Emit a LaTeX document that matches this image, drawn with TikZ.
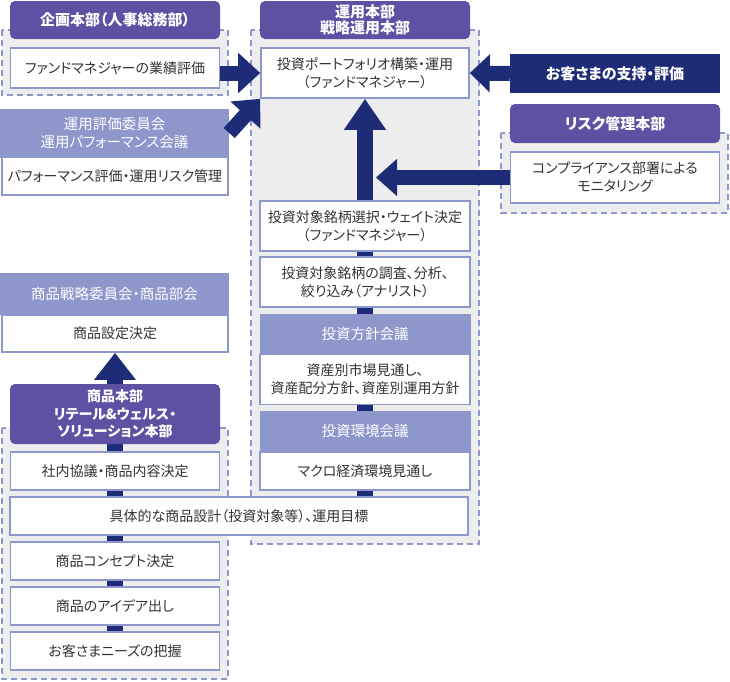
\documentclass[tikz,border=0pt]{standalone}
\usepackage{fontspec}
\newfontfamily\jp[RawFeature=+palt]{Noto Sans CJK JP}
\usetikzlibrary{arrows.meta}
\definecolor{hqpurple}{HTML}{5E50A3}
\definecolor{navy}{HTML}{1E2C78}
\definecolor{lite}{HTML}{8D97CC}
\definecolor{shade}{HTML}{EDEDED}
\definecolor{ink}{HTML}{333333}
\pgfdeclarelayer{back}
\pgfdeclarelayer{mid}
\pgfsetlayers{back,mid,main}
\tikzset{
        box/.style={draw=lite, line width=1.6pt, fill=white, text=ink, inner sep=0pt, align=center, font=\jp\fontsize{14}{18}\selectfont},
        hq/.style={fill=hqpurple, rounded corners=5pt, text=white, inner sep=0pt, align=center, font=\jp\bfseries\fontsize{15}{16.5}\selectfont},
        voice/.style={fill=navy, text=white, inner sep=0pt, align=center, font=\jp\bfseries\fontsize{15}{16.5}\selectfont},
        council/.style={fill=lite, text=white, inner sep=0pt, align=center, font=\jp\fontsize{14.5}{18}\selectfont},
        region/.style={fill=shade, draw=lite, line width=1.6pt, dash pattern=on 6pt off 4pt},
        link/.style={draw=navy, line width=16pt},
        fat/.style={draw=navy, line width=15pt, -{Triangle[length=22pt, width=39pt]}}
          }

\begin{document}
\begin{tikzpicture}[x=1pt, y=-1pt]
        \useasboundingbox (0,0) rectangle (730,681);
        % dashed department areas
        \begin{pgfonlayer}{back}
          \path[region] (2,30) rectangle (228,95);
          \path[region] (251,30) rectangle (479,544);
          \path[region] (501,133) rectangle (728,213);
          \path[region] (2,428) rectangle (228,679);
        \end{pgfonlayer}

        % planning / evaluation
        \node[hq, minimum width=210, minimum height=38] (plan) at (115,20) {企画本部（人事総務部）};
        \node[box, minimum width=209, minimum height=40] (rating) at (115,68) {ファンドマネジャーの業績評価};
        \node[council, minimum width=229, minimum height=49] (perfh) at (114.5,133) {運用評価委員会\\運用パフォーマンス会議};
        \node[box, minimum width=226, minimum height=38] (perf) at (115,176) {パフォーマンス評価・運用リスク管理};

        % investment division
        \node[hq, minimum width=210, minimum height=38] (inv) at (365,20) {運用本部\\戦略運用本部};
        \node[box, minimum width=208, minimum height=50] (port) at (365,73) {投資ポートフォリオ構築・運用\\（ファンドマネジャー）};
        \node[box, minimum width=210, minimum height=50] (pick) at (365,226) {投資対象銘柄選択・ウェイト決定\\（ファンドマネジャー）};
        \node[box, minimum width=210, minimum height=50] (study) at (365,282) {投資対象銘柄の調査、分析、\\絞り込み（アナリスト）};
        \node[council, minimum width=211, minimum height=41] (polh) at (365,334.5) {投資方針会議};
        \node[box, minimum width=210, minimum height=50] (pol) at (365,379.5) {資産別市場見通し、\\資産配分方針、資産別運用方針};
        \node[council, minimum width=211, minimum height=41] (envh) at (365,431.5) {投資環境会議};
        \node[box, minimum width=210, minimum height=38] (env) at (365,471) {マクロ経済環境見通し};

        % clients / risk
        \node[voice, minimum width=210, minimum height=39] (cust) at (615,73.5) {お客さまの支持・評価};
        \node[hq, minimum width=210, minimum height=39] (risk) at (615,123.5) {リスク管理本部};
        \node[box, minimum width=209, minimum height=51] (watch) at (615,177.5) {コンプライアンス部署による\\モニタリング};

        % product division
        \node[council, minimum width=229, minimum height=42] (strath) at (114.5,294) {商品戦略委員会・商品部会};
        \node[box, minimum width=226, minimum height=37] (strat) at (115,333.5) {商品設定決定};
        \node[hq, minimum width=210, minimum height=60, font=\jp\bfseries\fontsize{14}{17.5}\selectfont] (prod) at (115,414) {商品本部\\リテール\&ウェルス・\\ソリューション本部};
        \node[box, minimum width=209, minimum height=38] (agree) at (115,471) {社内協議・商品内容決定};
        \node[box, minimum width=458, minimum height=38] (design) at (239,516) {具体的な商品設計（投資対象等）、運用目標};
        \node[box, minimum width=209, minimum height=38] (concept) at (115,561) {商品コンセプト決定};
        \node[box, minimum width=209, minimum height=38] (idea) at (115,606) {商品のアイデア出し};
        \node[box, minimum width=209, minimum height=38] (needs) at (115,651) {お客さまニーズの把握};

        \begin{pgfonlayer}{mid}
          \draw[link] (prod.south) -- (agree.north);
          \draw[link] (agree.south) -- (agree.south |- design.north);
          \draw[link] (concept.north |- design.south) -- (concept.north);
          \draw[link] (concept.south) -- (idea.north);
          \draw[link] (idea.south) -- (needs.north);
          \draw[link] (env.south |- design.north) -- (env.south);
          \draw[link] (pol.south) -- (envh.north);
          \draw[link] (study.south) -- (polh.north);
          \draw[link] (pick.south) -- (study.north);
        \end{pgfonlayer}

        \draw[fat] (rating.east |- port.west) -- (port.west);
        \draw[fat] (perfh.east) -- (port.south west);
        \draw[fat, -{Triangle[length=20pt, width=37pt]}] (cust.west) -- (port.east);
        \draw[fat, line width=16pt, -{Triangle[length=31pt, width=40pt]}] (pick.north) -- (port.south);
        \draw[fat, -{Triangle[length=21pt, width=36pt]}] (watch.west) -- ([xshift=11pt]watch.west -| pick.north);
        \draw[fat, line width=16pt, -{Triangle[length=27pt, width=40pt]}] (prod.north) -- (strat.south);
\end{tikzpicture}
\end{document}
